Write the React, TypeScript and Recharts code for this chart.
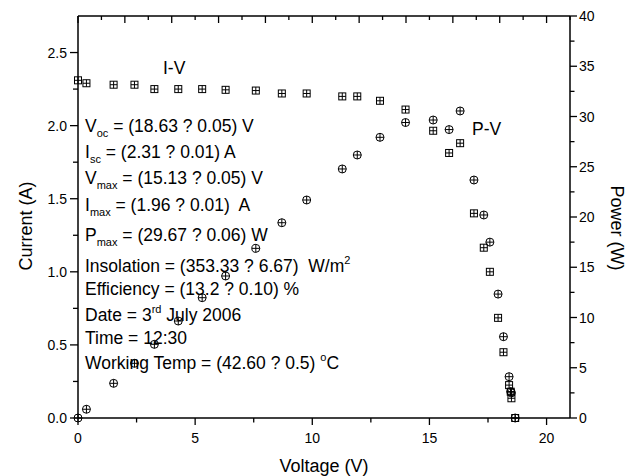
import { ScatterChart, Scatter, XAxis, YAxis } from 'recharts'

// readings taken off the I-V / P-V plot
const voltage = [0, 0.36, 1.52, 2.41, 3.26, 4.28, 5.3, 6.3, 7.59, 8.7, 9.76, 11.28, 11.92, 12.89, 13.98, 15.16, 15.84, 16.31, 16.9, 17.32, 17.58, 17.93, 18.16, 18.4, 18.47, 18.5, 18.66]
const current = [2.31, 2.29, 2.28, 2.28, 2.25, 2.25, 2.25, 2.245, 2.24, 2.22, 2.22, 2.2, 2.2, 2.17, 2.11, 1.965, 1.813, 1.88, 1.4, 1.165, 1.0, 0.685, 0.45, 0.225, 0.18, 0.135, 0]
const power = [0, 0.87, 3.45, 5.44, 7.33, 9.65, 11.97, 14.13, 16.88, 19.43, 21.69, 24.78, 26.17, 27.93, 29.4, 29.65, 28.7, 30.55, 23.68, 20.2, 17.5, 12.33, 8.09, 4.11, 2.62, 2.5, 0]

const voltageTicks = [0, 2.5, 5, 7.5, 10, 12.5, 15, 17.5, 20]
const topTicks = [0, 1, 2, 3, 4, 5, 6, 7, 8, 9, 10, 11, 12, 13, 14, 15, 16, 17, 18, 19, 20, 21]
const currentTicks = [0, 0.25, 0.5, 0.75, 1, 1.25, 1.5, 1.75, 2, 2.25, 2.5]
const powerTicks = [0, 2.5, 5, 7.5, 10, 12.5, 15, 17.5, 20, 22.5, 25, 27.5, 30, 32.5, 35, 37.5, 40]

const I_MAX = 2.75
const P_MAX = 40

const data = voltage.map((v, k) => ({ v, i: current[k], p: power[k] }))
// top frame: points along the upper edge (on the power axis), joined by a line, each with an inward tick
const frame = topTicks.map((t) => ({ v: t, p: P_MAX }))

const FONT = '"Liberation Sans", Arial, sans-serif'
const INK = '#000'

const isMultiple = (value: number, step: number) => Math.abs(value / step - Math.round(value / step)) < 1e-6

const BottomTick = ({ x, y, payload }: any) => {
  const major = isMultiple(payload.value, 5)
  return (
    <g>
      <line x1={x} x2={x} y1={y} y2={y + (major ? 7 : 4.5)} stroke={INK} strokeWidth={1.3} />
      {major && (
        <text x={x} y={y + 25} textAnchor="middle" fontSize={14} fontFamily={FONT} fill={INK}>
          {payload.value}
        </text>
      )}
    </g>
  )
}

const LeftTick = ({ x, y, payload }: any) => {
  const major = isMultiple(payload.value, 0.5)
  return (
    <g>
      <line x1={x - (major ? 8 : 5)} x2={x} y1={y} y2={y} stroke={INK} strokeWidth={1.3} />
      {major && (
        <text x={x - 11} y={y + 5} textAnchor="end" fontSize={14} fontFamily={FONT} fill={INK}>
          {payload.value.toFixed(1)}
        </text>
      )}
    </g>
  )
}

const RightTick = ({ x, y, payload }: any) => {
  const major = isMultiple(payload.value, 5)
  return (
    <g>
      <line x1={x} x2={x + (major ? 7 : 4.5)} y1={y} y2={y} stroke={INK} strokeWidth={1.3} />
      {major && (
        <text x={x + 9} y={y + 5} textAnchor="start" fontSize={14} fontFamily={FONT} fill={INK}>
          {payload.value}
        </text>
      )}
    </g>
  )
}

const FrameTick = (props: any) => {
  const { cx, cy, payload } = props
  if (cx == null || cy == null) return null
  const major = payload ? isMultiple(payload.v, 2) : true
  return <line x1={cx} x2={cx} y1={cy} y2={cy + (major ? 7 : 4)} stroke={INK} strokeWidth={1.3} />
}

const SquareMark = (props: any) => {
  const { cx, cy } = props
  if (cx == null || cy == null) return null
  return (
    <g fill="none" stroke={INK} strokeWidth={1}>
      <rect x={cx - 3.5} y={cy - 3.5} width={7} height={7} />
      <line x1={cx - 3.5} x2={cx + 3.5} y1={cy} y2={cy} />
      <line x1={cx} x2={cx} y1={cy - 3.5} y2={cy + 3.5} />
    </g>
  )
}

const CircleMark = (props: any) => {
  const { cx, cy } = props
  if (cx == null || cy == null) return null
  return (
    <g fill="none" stroke={INK} strokeWidth={1}>
      <circle cx={cx} cy={cy} r={4} />
      <line x1={cx - 4} x2={cx + 4} y1={cy} y2={cy} />
      <line x1={cx} x2={cx} y1={cy - 4} y2={cy + 4} />
    </g>
  )
}

const axisLine = { stroke: INK, strokeWidth: 1.5 }

function Annotations() {
  const sub = { fontSize: 11 }
  const lineStyle = { whiteSpace: 'pre' as const }
  return (
    <svg width={636} height={476} style={{ position: 'absolute', left: 0, top: 0, pointerEvents: 'none' }}>
      <g fontFamily={FONT} fill={INK} fontSize={17.5}>
        <text x={163} y={74}>I-V</text>
        <text x={472} y={135}>P-V</text>

        <text x={85} y={132} style={lineStyle}>
          V<tspan {...sub} dy={5}>oc</tspan><tspan dy={-5}> = (18.63 ? 0.05) V</tspan>
        </text>
        <text x={85} y={158} style={lineStyle}>
          I<tspan {...sub} dy={5}>sc</tspan><tspan dy={-5}> = (2.31 ? 0.01) A</tspan>
        </text>
        <text x={85} y={184} style={lineStyle}>
          V<tspan {...sub} dy={5}>max</tspan><tspan dy={-5}> = (15.13 ? 0.05) V</tspan>
        </text>
        <text x={85} y={211} style={lineStyle}>
          I<tspan {...sub} dy={5}>max</tspan><tspan dy={-5}> = (1.96 ? 0.01)  A</tspan>
        </text>
        <text x={85} y={241} style={lineStyle}>
          P<tspan {...sub} dy={5}>max</tspan><tspan dy={-5}> = (29.67 ? 0.06) W</tspan>
        </text>
        <text x={85} y={272} style={lineStyle}>
          Insolation = (353.33 ? 6.67)  W/m<tspan {...sub} dy={-8}>2</tspan>
        </text>
        <text x={85} y={295} style={lineStyle}>
          Efficiency = (13.2 ? 0.10) %
        </text>
        <text x={85} y={321} style={lineStyle}>
          Date = 3<tspan {...sub} dy={-8}>rd</tspan><tspan dy={8}> July 2006</tspan>
        </text>
        <text x={85} y={344} style={lineStyle}>
          Time = 12:30
        </text>
        <text x={85} y={369} style={lineStyle}>
          Working Temp = (42.60 ? 0.5) <tspan {...sub} dy={-8}>o</tspan><tspan dy={8}>C</tspan>
        </text>
      </g>
      <g fontFamily={FONT} fill={INK} fontSize={18}>
        <text x={324} y={472} textAnchor="middle">Voltage (V)</text>
        <text x={26} y={226} textAnchor="middle" dominantBaseline="central" transform="rotate(-90 26 226)">
          Current (A)
        </text>
        <text x={617} y={228} textAnchor="middle" dominantBaseline="central" transform="rotate(90 617 228)">
          Power (W)
        </text>
      </g>
    </svg>
  )
}

export default function App() {
  return (
    <div style={{ position: 'absolute', left: 0, top: 0, width: 636, height: 476, background: '#fff' }}>
      <ScatterChart width={636} height={476} margin={{ top: 16, right: 26, bottom: 28, left: 28 }}>
        <XAxis
          xAxisId="bottom"
          type="number"
          dataKey="v"
          domain={[0, 21]}
          ticks={voltageTicks}
          interval={0}
          height={30}
          axisLine={axisLine}
          tickLine={false}
          tickSize={0}
          tickMargin={0}
          tick={<BottomTick />}
        />
        <YAxis
          yAxisId="left"
          type="number"
          dataKey="i"
          domain={[0, I_MAX]}
          ticks={currentTicks}
          interval={0}
          width={50}
          axisLine={axisLine}
          tickLine={false}
          tickSize={0}
          tickMargin={0}
          tick={<LeftTick />}
        />
        <YAxis
          yAxisId="right"
          orientation="right"
          type="number"
          dataKey="p"
          domain={[0, P_MAX]}
          ticks={powerTicks}
          interval={0}
          width={40}
          axisLine={axisLine}
          tickLine={false}
          tickSize={0}
          tickMargin={0}
          tick={<RightTick />}
        />
        <Scatter
          name="I-V"
          data={data}
          xAxisId="bottom"
          yAxisId="left"
          shape={<SquareMark />}
          isAnimationActive={false}
        />
        <Scatter
          name="P-V"
          data={data}
          xAxisId="bottom"
          yAxisId="right"
          shape={<CircleMark />}
          isAnimationActive={false}
        />
        <Scatter
          name="frame"
          data={frame}
          xAxisId="bottom"
          yAxisId="right"
          line={{ stroke: INK, strokeWidth: 1.5 }}
          shape={<FrameTick />}
          legendType="none"
          isAnimationActive={false}
        />
      </ScatterChart>
      <Annotations />
    </div>
  )
}
